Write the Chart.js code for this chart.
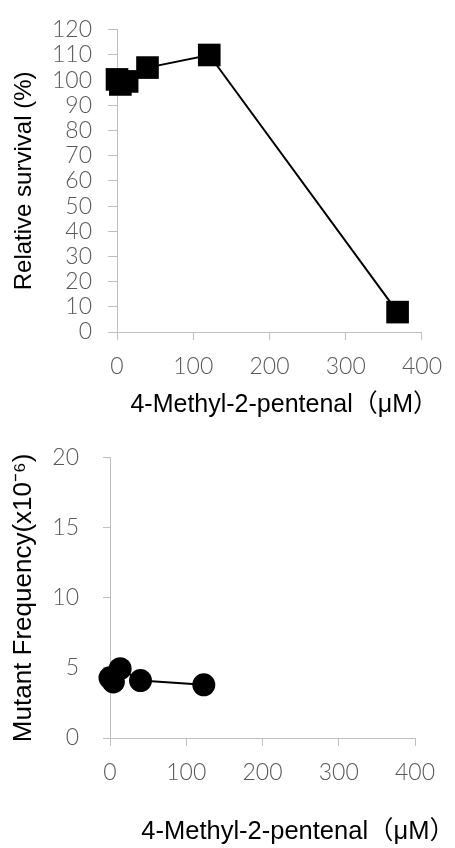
<!DOCTYPE html>
<html>
<head>
<meta charset="utf-8">
<script src="https://cdn.jsdelivr.net/npm/chart.js@4.4.1/dist/chart.umd.min.js"></script>
<style>
  html, body { margin: 0; padding: 0; background: #ffffff; }
  #wrap { position: relative; width: 455px; height: 848px; }
  #c1 { position: absolute; left: 0; top: 0; }
  #c2 { position: absolute; left: 0; top: 420px; }
</style>
</head>
<body>
<div id="wrap">
  <canvas id="c1" width="455" height="420"></canvas>
  <canvas id="c2" width="455" height="428"></canvas>
</div>
<script>
// ---- data ----
const survivalDose = [0, 4.4, 13.3, 40, 121, 368];
const survivalPct  = [100.3, 98.3, 99.5, 105, 110, 7.9];

const mfDose       = [0, 4.4, 13.3, 40, 123];
const mutantFreq   = [4.3, 4.0, 4.95, 4.1, 3.8];

const xTickValues   = [0, 100, 200, 300, 400];
const survivalTicks = [0, 10, 20, 30, 40, 50, 60, 70, 80, 90, 100, 110, 120];
const mfTicks       = [0, 5, 10, 15, 20];

const xTitle  = '4-Methyl-2-pentenal（μM）';
const y1Title = 'Relative survival (%)';
const y2Title = 'Mutant Frequency(x10⁻⁶)';

// ---- styling ----
const axisGray = '#bfbfbf';
const sans = '"Liberation Sans", Arial, "Noto Sans CJK JP", sans-serif';
const tickFont = { family: 'Lato, "Liberation Sans", sans-serif', size: 23, weight: '300' };

function pts(xs, ys) { return xs.map((x, i) => ({ x: x, y: ys[i] })); }

Chart.defaults.devicePixelRatio = 1;
Chart.defaults.animation = false;

// ---------------- top chart ----------------
new Chart(document.getElementById('c1'), {
  type: 'scatter',
  data: {
    datasets: [{
      data: pts(survivalDose, survivalPct),
      showLine: true,
      borderColor: '#000',
      borderWidth: 2,
      pointStyle: 'rect',
      pointRadius: 16,
      pointHoverRadius: 16,
      pointBackgroundColor: '#000',
      pointBorderColor: '#000',
      pointBorderWidth: 0,
      clip: false,
      yAxisID: 'y'
    }]
  },
  options: {
    responsive: false,
    layout: { padding: { left: 0, right: 17, top: 28, bottom: 0 } },
    plugins: {
      legend: { display: false },
      tooltip: { enabled: false },
      title: {
        display: true, text: xTitle, position: 'bottom', align: 'end', fullSize: true,
        font: { family: sans, size: 25, weight: 'normal' }, color: '#000', padding: { top: 0, bottom: 0 }
      }
    },
    scales: {
      x: {
        type: 'linear', min: 0, max: 400,
        afterBuildTicks: s => { s.ticks = xTickValues.map(v => ({ value: v })); },
        afterFit: s => { s.height = 58; },
        grid: { drawOnChartArea: false, drawTicks: true, tickLength: 8, color: axisGray, lineWidth: 1 },
        border: { display: true, color: axisGray, width: 1 },
        ticks: { font: tickFont, color: '#595959', padding: 13, maxRotation: 0, autoSkip: false }
      },
      y: {
        type: 'linear', min: 0, max: 120, position: 'left',
        afterBuildTicks: s => { s.ticks = survivalTicks.map(v => ({ value: v })); },
        afterFit: s => { s.width = 117; },
        grid: { drawOnChartArea: false, drawTicks: true, tickLength: 9, color: axisGray, lineWidth: 1 },
        border: { display: true, color: axisGray, width: 1 },
        ticks: { font: tickFont, color: '#595959', padding: 16, autoSkip: false },
        title: { display: true, text: y1Title, font: { family: sans, size: 24, weight: 'normal' }, color: '#000', padding: { top: 10, bottom: 0 } }
      },
      yr: {
        type: 'linear', position: 'right', display: true,
        afterFit: s => { s.width = 8; },
        grid: { display: false, drawTicks: false },
        border: { display: false },
        ticks: { display: false }
      }
    }
  }
});

// ---------------- bottom chart ----------------
new Chart(document.getElementById('c2'), {
  type: 'scatter',
  data: {
    datasets: [{
      data: pts(mfDose, mutantFreq),
      showLine: true,
      borderColor: '#000',
      borderWidth: 2,
      pointStyle: 'circle',
      pointRadius: 11.5,
      pointHoverRadius: 11.5,
      pointBackgroundColor: '#000',
      pointBorderColor: '#000',
      pointBorderWidth: 0,
      clip: false,
      yAxisID: 'y'
    }]
  },
  options: {
    responsive: false,
    layout: { padding: { left: 0, right: 0, top: 25, bottom: 0 } },
    plugins: {
      legend: { display: false },
      tooltip: { enabled: false },
      title: {
        display: true, text: xTitle, position: 'bottom', align: 'end', fullSize: true,
        font: { family: sans, size: 25.5, weight: 'normal' }, color: '#000', padding: { top: 0, bottom: 1 }
      }
    },
    scales: {
      x: {
        type: 'linear', min: 0, max: 400,
        afterBuildTicks: s => { s.ticks = xTickValues.map(v => ({ value: v })); },
        afterFit: s => { s.height = 78.4; },
        grid: { drawOnChartArea: false, drawTicks: true, tickLength: 8, color: axisGray, lineWidth: 1 },
        border: { display: true, color: axisGray, width: 1 },
        ticks: { font: tickFont, color: '#595959', padding: 13, maxRotation: 0, autoSkip: false }
      },
      y: {
        type: 'linear', min: 0, max: 20, position: 'left',
        afterBuildTicks: s => { s.ticks = mfTicks.map(v => ({ value: v })); },
        afterFit: s => { s.width = 110; },
        grid: { drawOnChartArea: false, drawTicks: true, tickLength: 7, color: axisGray, lineWidth: 1 },
        border: { display: true, color: axisGray, width: 1 },
        ticks: { font: tickFont, color: '#595959', padding: 24, autoSkip: false },
        title: { display: true, text: y2Title, font: { family: sans, size: 26, weight: 'normal' }, color: '#000', padding: { top: 8, bottom: 0 } }
      },
      yr: {
        type: 'linear', position: 'right', display: true,
        afterFit: s => { s.width = 40; },
        grid: { display: false, drawTicks: false },
        border: { display: false },
        ticks: { display: false }
      }
    }
  }
});
</script>
</body>
</html>
